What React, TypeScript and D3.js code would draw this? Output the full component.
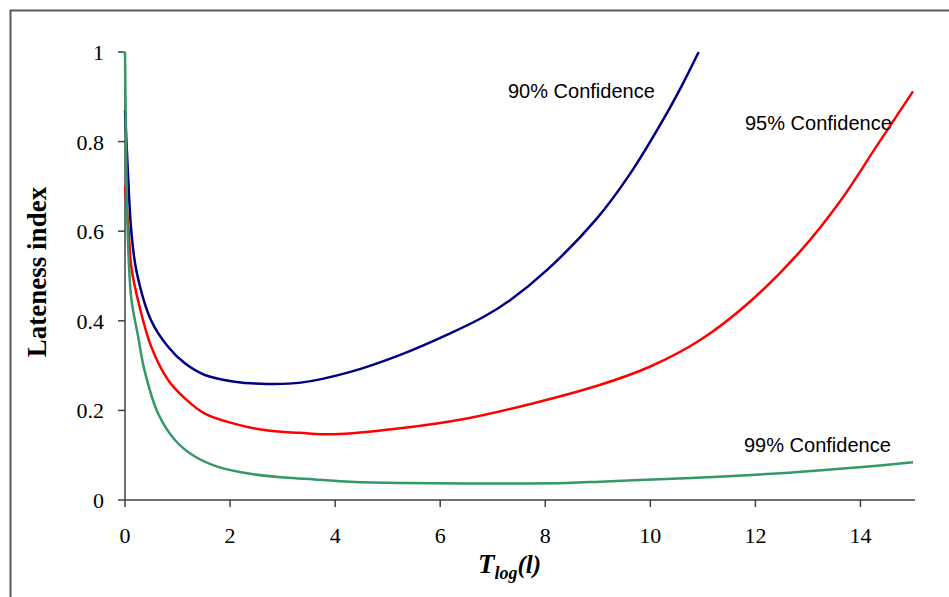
import React from "react";
import * as d3 from "d3";

const xTicks = [0, 2, 4, 6, 8, 10, 12, 14];
const yTicks = [0, 0.2, 0.4, 0.6, 0.8, 1];

const blueX = [0, 0.044, 0.12, 0.22, 0.5, 0.82, 1.14, 1.52, 2.09, 2.72, 3.35, 4.29, 5.24, 6.19, 6.83, 7.33, 8.03, 8.98, 9.62, 10.25, 10.6, 10.92];
const blueY = [0.87, 0.76, 0.6, 0.51, 0.4, 0.342, 0.305, 0.279, 0.264, 0.259, 0.262, 0.286, 0.324, 0.372, 0.409, 0.446, 0.513, 0.628, 0.729, 0.85, 0.925, 1.0];

const redX = [0, 0.07, 0.12, 0.26, 0.5, 0.82, 1.14, 1.52, 2.09, 2.72, 3.33, 3.97, 5.24, 6.51, 7.78, 9.02, 10.0, 10.95, 11.9, 12.86, 13.62, 14.32, 15];
const redY = [0.7, 0.6, 0.52, 0.44, 0.342, 0.268, 0.227, 0.193, 0.17, 0.155, 0.15, 0.1466, 0.16, 0.182, 0.216, 0.256, 0.298, 0.357, 0.443, 0.556, 0.668, 0.792, 0.912];

const greenX = [0, 0.02, 0.05, 0.12, 0.25, 0.37, 0.63, 0.95, 1.33, 1.77, 2.41, 3.04, 3.61, 4.29, 5.24, 6.5, 8.41, 9.05, 9.68, 11.09, 12.64, 13.98, 15];
const greenY = [1.0, 0.8, 0.6, 0.45, 0.365, 0.29, 0.193, 0.134, 0.097, 0.074, 0.058, 0.05, 0.046, 0.041, 0.038, 0.037, 0.038, 0.041, 0.044, 0.051, 0.061, 0.073, 0.084];

const seriesNames = ["90% Confidence", "95% Confidence", "99% Confidence"];
const seriesColors = ["#000080", "#FF0000", "#339966"];

export default function App() {
  const x = d3.scaleLinear().domain([0, 15]).range([125, 913]);
  const y = d3.scaleLinear().domain([0, 1]).range([500, 52]);
  const line = d3
    .line<[number, number]>()
    .x((d) => x(d[0]))
    .y((d) => y(d[1]))
    .curve(d3.curveCatmullRom.alpha(0.5));

  const series = [
    blueX.map((v, i) => [v, blueY[i]] as [number, number]),
    redX.map((v, i) => [v, redY[i]] as [number, number]),
    greenX.map((v, i) => [v, greenY[i]] as [number, number]),
  ];
  const labelPos = [
    { x: 508, y: 98 },
    { x: 745, y: 130 },
    { x: 744, y: 452 },
  ];
  const axisColor = "#404040";
  const serif = "'Liberation Serif', 'Times New Roman', serif";
  const sans = "'Liberation Sans', Arial, sans-serif";

  return (
    <svg
      width={949}
      height={597}
      style={{ position: "absolute", left: 0, top: 0, background: "#fff" }}
    >
      <rect x={0} y={0} width={949} height={597} fill="#fff" />
      <rect x={10.5} y={10.5} width={1000} height={1000} fill="none" stroke="#595959" strokeWidth={2} />

      {/* y axis */}
      <line x1={x(0)} x2={x(0)} y1={y(0)} y2={y(1)} stroke={axisColor} strokeWidth={1.5} />
      {yTicks.map((t) => (
        <g key={"y" + t}>
          <line x1={x(0) - 7} x2={x(0)} y1={y(t)} y2={y(t)} stroke={axisColor} strokeWidth={1.5} />
          <text x={104} y={y(t) + 8} textAnchor="end" fontFamily={serif} fontSize={22} fill="#000">
            {d3.format("~g")(t)}
          </text>
        </g>
      ))}

      {/* x axis */}
      <line x1={x(0)} x2={x(15) + 2} y1={y(0)} y2={y(0)} stroke={axisColor} strokeWidth={1.5} />
      {xTicks.map((t) => (
        <g key={"x" + t}>
          <line x1={x(t)} x2={x(t)} y1={y(0)} y2={y(0) + 7} stroke={axisColor} strokeWidth={1.5} />
          <text x={x(t)} y={543} textAnchor="middle" fontFamily={serif} fontSize={22} fill="#000">
            {t}
          </text>
        </g>
      ))}

      {/* series */}
      {series.map((s, i) => (
        <path key={i} d={line(s) || ""} fill="none" stroke={seriesColors[i]} strokeWidth={2.5} />
      ))}

      {seriesNames.map((n, i) => (
        <text key={n} x={labelPos[i].x} y={labelPos[i].y} fontFamily={sans} fontSize={20} fill="#000">
          {n}
        </text>
      ))}

      {/* axis titles */}
      <text
        transform="translate(46,272) rotate(-90)"
        textAnchor="middle"
        fontFamily={serif}
        fontWeight="bold"
        fontSize={27}
        fill="#000"
      >
        Lateness index
      </text>
      <text x={478} y={573} fontFamily={serif} fontWeight="bold" fontStyle="italic" fill="#000">
        <tspan fontSize={27}>T</tspan>
        <tspan fontSize={18} dy={6}>log</tspan>
        <tspan fontSize={25} dy={-6}>(l)</tspan>
      </text>
    </svg>
  );
}
